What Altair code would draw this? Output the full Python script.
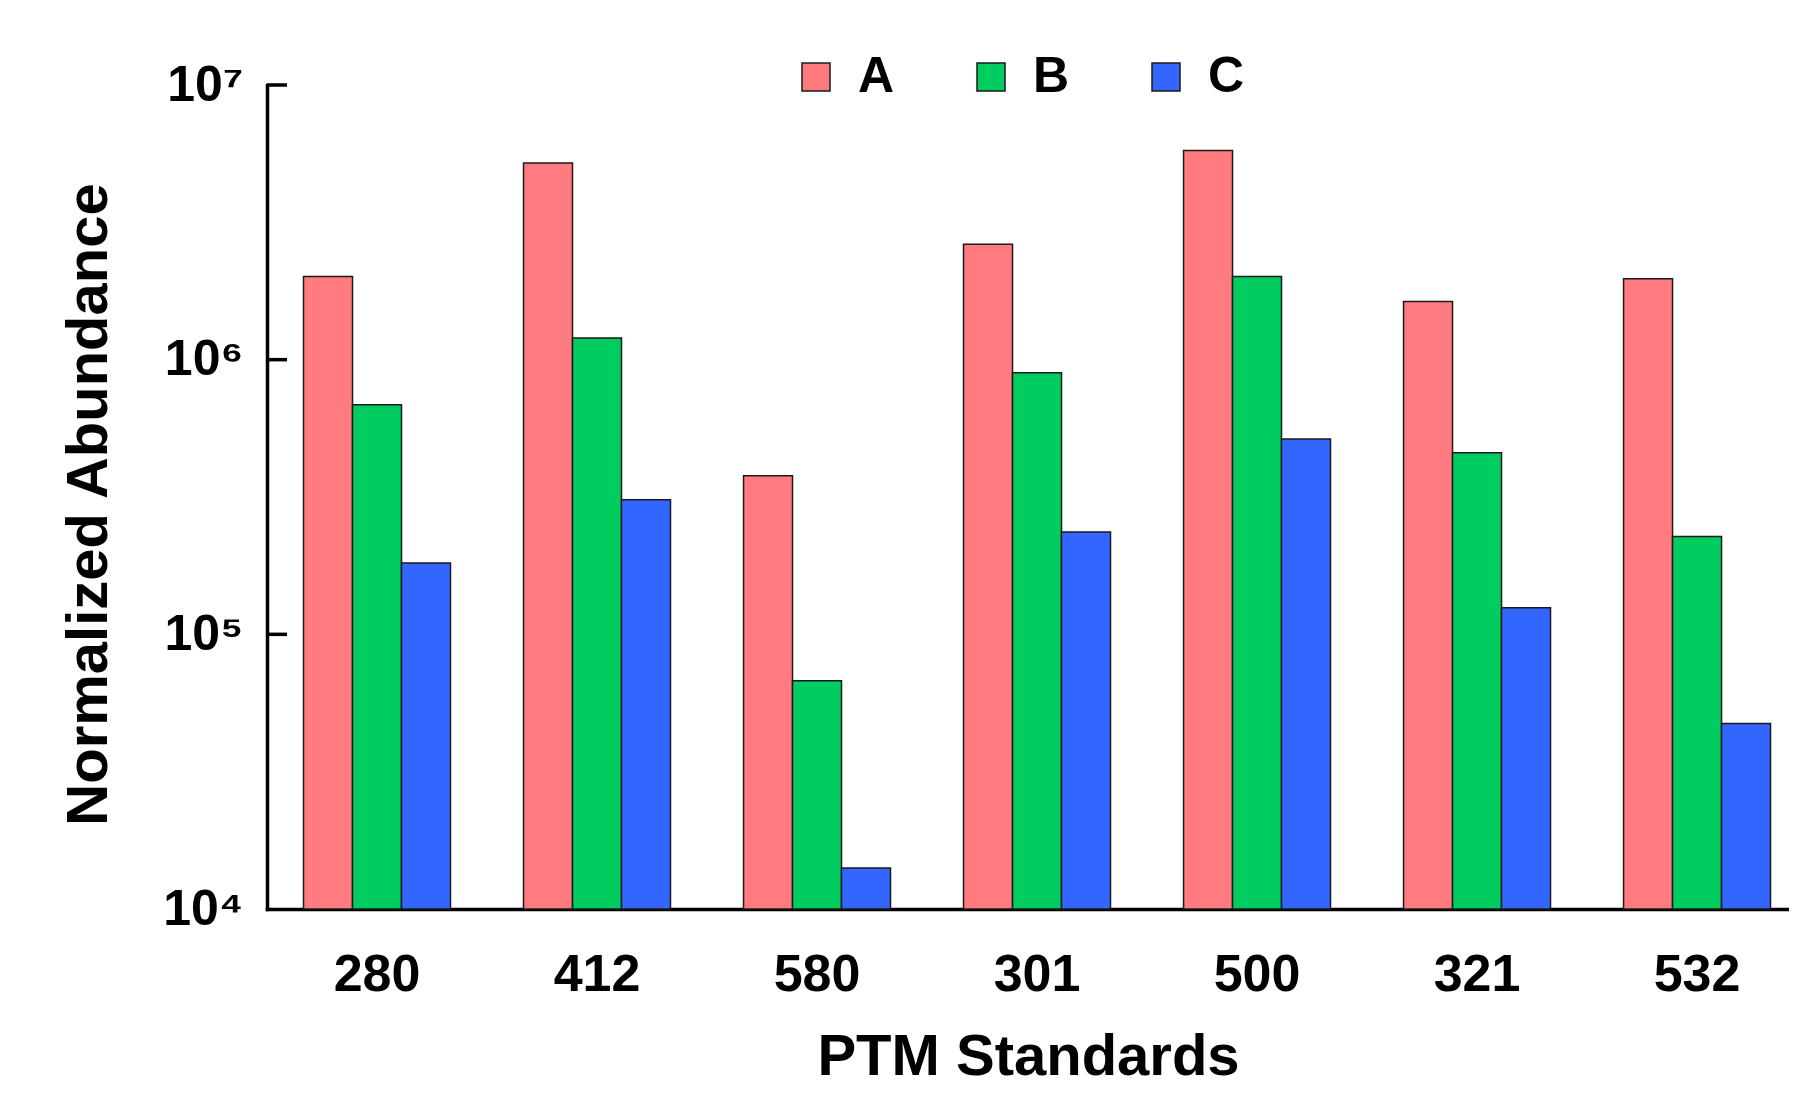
import altair as alt
import pandas as pd

categories = ["280", "412", "580", "301", "500", "321", "532"]
series_names = ["A", "B", "C"]
values_a = [2.01e6, 5.2e6, 3.78e5, 2.63e6, 5.78e6, 1.63e6, 1.97e6]
values_b = [6.85e5, 1.20e6, 6.77e4, 8.97e5, 2.01e6, 4.58e5, 2.27e5]
values_c = [1.82e5, 3.09e5, 1.41e4, 2.36e5, 5.14e5, 1.25e5, 4.74e4]
colors = ["#FF7B80", "#00CC60", "#3366FF"]
y_tick_values = [1e4, 1e5, 1e6, 1e7]
y_tick_labels = ["10⁴", "10⁵", "10⁶", "10⁷"]
inner_tick_values = [1e5, 1e6, 1e7]
bar_base = 1e4

rows = []
for s, vals in zip(series_names, [values_a, values_b, values_c]):
    for c, v in zip(categories, vals):
        rows.append({"standard": c, "series": s, "value": v, "base": bar_base})
df = pd.DataFrame(rows)
ticks_df = pd.DataFrame({"value": inner_tick_values})

FONT = "Liberation Sans"
label_map = "{" + ", ".join(f"'{int(v)}': '{l}'" for v, l in zip(y_tick_values, y_tick_labels)) + "}"

yscale = alt.Scale(type="log", domain=[1e4, 1e7], nice=False)

bars = alt.Chart(df).mark_bar(stroke="#1a1a1a", strokeWidth=1.5).encode(
    x=alt.X(
        "standard:N",
        sort=categories,
        scale=alt.Scale(paddingInner=0.332, paddingOuter=0.125, align=0.664),
        axis=alt.Axis(
            title="PTM Standards",
            labelAngle=0,
            labelFontSize=52,
            labelFont=FONT,
            labelFontWeight="bold",
            labelColor="black",
            labelBaseline="middle",
            labelPadding=65,
            ticks=False,
            tickSize=0,
            domainColor="black",
            domainWidth=3.5,
            domainCap="square",
            titleFontSize=58,
            titleFont=FONT,
            titleFontWeight="bold",
            titleColor="black",
            titleBaseline="middle",
            titleY=148,
        ),
    ),
    xOffset=alt.XOffset("series:N", sort=series_names),
    y=alt.Y(
        "value:Q",
        scale=yscale,
        axis=alt.Axis(
            title="Normalized Abundance",
            values=y_tick_values,
            labelExpr=label_map + "[datum.value]",
            labelFontSize=50,
            labelFont=FONT,
            labelFontWeight="bold",
            labelColor="black",
            labelPadding=24,
            ticks=False,
            tickSize=0,
            grid=False,
            domainColor="black",
            domainWidth=3.5,
            domainCap="square",
            titleFontSize=58,
            titleFont=FONT,
            titleFontWeight="bold",
            titleColor="black",
            titleAngle=270,
            titleAlign="center",
            titleBaseline="middle",
            titleX=-178,
            titleY=419,
        ),
    ),
    y2="base:Q",
    color=alt.Color(
        "series:N",
        sort=series_names,
        scale=alt.Scale(domain=series_names, range=colors),
        legend=alt.Legend(
            title=None,
            orient="none",
            direction="horizontal",
            legendX=524,
            legendY=-33,
            symbolType="square",
            symbolSize=784,
            symbolStrokeColor="#1a1a1a",
            symbolStrokeWidth=1.5,
            symbolOpacity=1,
            labelFontSize=50,
            labelFont=FONT,
            labelFontWeight="bold",
            labelColor="black",
            labelOffset=17,
            columnPadding=71,
        ),
    ),
)

inner_ticks = alt.Chart(ticks_df).mark_rule(color="black", strokeWidth=3.5).encode(
    y=alt.Y("value:Q", scale=yscale),
    x=alt.value(0),
    x2=alt.value(20),
)

chart = alt.layer(bars, inner_ticks).properties(
    width=1522,
    height=824,
    autosize=alt.AutoSizeParams(type="none"),
    padding={"left": 259, "top": 77, "right": 0, "bottom": 178},
).configure_view(strokeWidth=0)

chart.save("out.html", embed_options={"renderer": "svg", "actions": False})
